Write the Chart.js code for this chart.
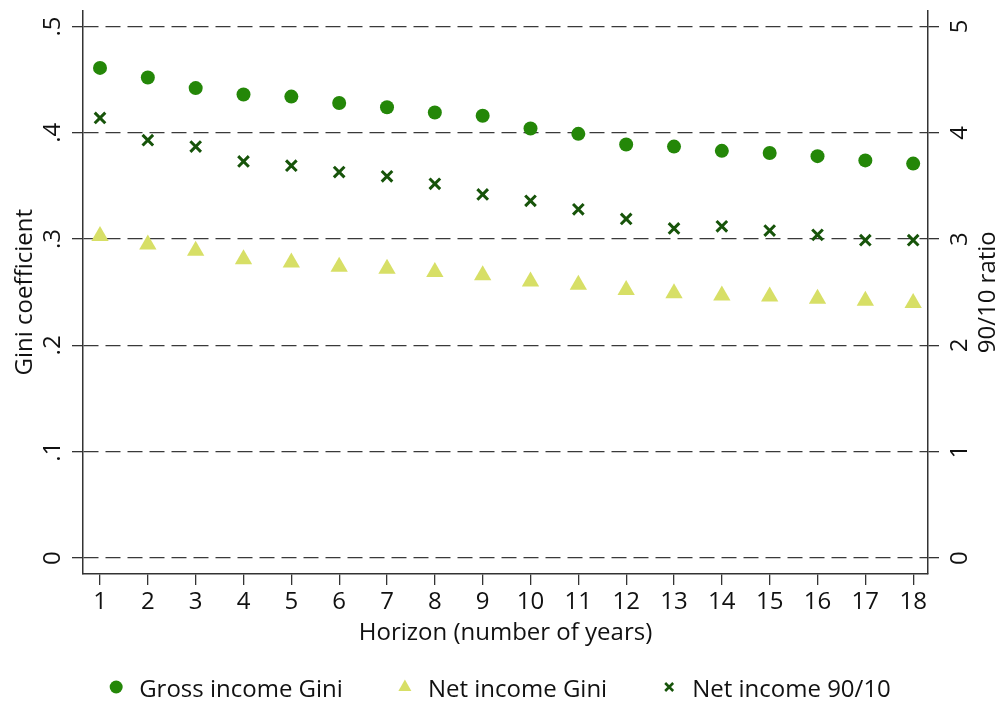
<!DOCTYPE html>
<html>
<head>
<meta charset="utf-8">
<script src="https://cdn.jsdelivr.net/npm/chart.js@4.4.1/dist/chart.umd.min.js"></script>
<style>
html,body{margin:0;padding:0;background:#fff}
#grafico{display:block}
</style>
</head>
<body>
<canvas id="grafico" width="1000" height="702"></canvas>
<script>
// datos
var horizonte = [1,2,3,4,5,6,7,8,9,10,11,12,13,14,15,16,17,18]
var giniBruto = [.461,.452,.442,.436,.434,.428,.424,.419,.416,.404,.399,.389,.387,.383,.381,.378,.374,.371]
var giniNeto = [.303,.295,.289,.281,.278,.274,.272,.269,.266,.260,.257,.252,.249,.247,.246,.244,.242,.240]
var ratio9010 = [4.14,3.93,3.87,3.73,3.69,3.63,3.59,3.52,3.42,3.36,3.28,3.19,3.10,3.12,3.08,3.04,2.99,2.99]
var ticksGini = [0,.1,.2,.3,.4,.5]
var etiquetasGini = ['0','.1','.2','.3','.4','.5']
var ticksRatio = [0,1,2,3,4,5]
var nombres = ['Gross income Gini','Net income Gini','Net income 90/10']

var verde = '#248708'
var amarillo = '#d7df66'
var oscuro = '#17540a'
var fuente = "'Open Sans', sans-serif"

var puntos = (serie) => horizonte.map((h, i) => ({x: h, y: serie[i]}))

//leyenda abajo y titulo del eje derecho
var extras = {
  id: 'extras',
  afterDraw(chart) {
    var ctx = chart.ctx
    ctx.save()
    ctx.font = '24px ' + fuente
    ctx.fillStyle = '#111'
    ctx.textBaseline = 'middle'
    // titulo derecho, de abajo hacia arriba
    ctx.save()
    ctx.translate(988, (chart.chartArea.top + chart.chartArea.bottom) / 2)
    ctx.rotate(-Math.PI / 2)
    ctx.textAlign = 'center'
    ctx.fillText('90/10 ratio', 0, 0)
    ctx.restore()

    var anchos = nombres.map(n => ctx.measureText(n).width)
    var total = anchos.reduce((a, b) => a + b + 30, 0) + 55 * (nombres.length - 1)
    var x = 500 - total / 2
    var y = 687
    ctx.textAlign = 'left'
    nombres.forEach((n, i) => {
      var cx = x + 7
      if (i == 0) {
        ctx.fillStyle = verde
        ctx.beginPath(); ctx.arc(cx, y, 6.5, 0, Math.PI * 2); ctx.fill()
      } else if (i == 1) {
        ctx.fillStyle = amarillo
        ctx.beginPath()
        ctx.moveTo(cx, y - 7.5)
        ctx.lineTo(cx + 6.5, y + 4)
        ctx.lineTo(cx - 6.5, y + 4)
        ctx.closePath(); ctx.fill()
      } else {
        ctx.strokeStyle = oscuro
        ctx.lineWidth = 2.5
        ctx.beginPath()
        ctx.moveTo(cx - 4, y - 4); ctx.lineTo(cx + 4, y + 4)
        ctx.moveTo(cx + 4, y - 4); ctx.lineTo(cx - 4, y + 4)
        ctx.stroke()
      }
      ctx.fillStyle = '#111'
      ctx.fillText(n, x + 30, y + 3)
      x += 30 + anchos[i] + 55
    })
    ctx.restore()
  }
}

var grid = {
  color: '#3a3a3a',
  lineWidth: 1.3,
  tickBorderDash: [],
  tickLength: 11,
  tickWidth: 1.3,
  tickColor: '#333'
}

var graf = document.getElementById('grafico').getContext('2d')
var chart = new Chart(graf, {
  type: 'scatter',
  data: {
    datasets: [
      {
        label: nombres[0],
        data: puntos(giniBruto),
        yAxisID: 'y',
        pointStyle: 'circle',
        pointRadius: 7,
        borderWidth: 0,
        backgroundColor: verde
      },
      {
        label: nombres[1],
        data: puntos(giniNeto),
        yAxisID: 'y',
        pointStyle: 'triangle',
        pointRadius: 10,
        borderWidth: 0,
        backgroundColor: amarillo
      },
      {
        label: nombres[2],
        data: puntos(ratio9010),
        yAxisID: 'y2',
        pointStyle: 'crossRot',
        pointRadius: 7.5,
        borderWidth: 3,
        borderColor: oscuro,
        backgroundColor: oscuro
      }
    ]
  },
  options: {
    responsive: false,
    animation: false,
    devicePixelRatio: 1,
    layout: {padding: {top: 8, left: 0, right: 0, bottom: 0}},
    plugins: {legend: {display: false}, tooltip: {enabled: false}},
    font: {family: fuente, size: 24},
    scales: {
      x: {
        type: 'linear',
        min: 0.6445,
        max: 18.31,
        afterBuildTicks: (s) => { s.ticks = horizonte.map(v => ({value: v})) },
        afterFit: (s) => { s.height = 128; s.paddingLeft = 0; s.paddingRight = 0 },
        grid: {drawOnChartArea: false, tickLength: 11, lineWidth: 1.3, color: '#333'},
        border: {display: true, color: '#333', width: 1.5},
        ticks: {autoSkip: false, maxRotation: 0, padding: 3, color: '#111', font: {family: fuente, size: 24}, callback: (v) => String(v)},
        title: {display: true, text: 'Horizon (number of years)', color: '#111', font: {family: fuente, size: 24}, padding: {top: 0, bottom: 54}}
      },
      y: {
        position: 'left',
        min: -0.015,
        max: 0.515,
        afterBuildTicks: (s) => { s.ticks = ticksGini.map(v => ({value: v})) },
        afterFit: (s) => { s.width = 83; s.paddingTop = 0; s.paddingBottom = 0 },
        grid: grid,
        border: {display: true, color: '#333', width: 1.5, dash: [15, 7]},
        ticks: {minRotation: 90, maxRotation: 90, crossAlign: 'center', padding: 9, color: '#111', font: {family: fuente, size: 24}, callback: (v, i) => etiquetasGini[i]},
        title: {display: true, text: 'Gini coefficient', color: '#111', font: {family: fuente, size: 24}, padding: {top: 11, bottom: 0}}
      },
      y2: {
        position: 'right',
        min: -0.15,
        max: 5.15,
        afterBuildTicks: (s) => { s.ticks = ticksRatio.map(v => ({value: v})) },
        afterFit: (s) => { s.width = 72; s.paddingTop = 0; s.paddingBottom = 0 },
        grid: {drawOnChartArea: false, tickLength: 11, lineWidth: 1.3, color: '#333', tickBorderDash: []},
        border: {display: true, color: '#333', width: 1.5},
        ticks: {minRotation: 90, maxRotation: 90, crossAlign: 'center', padding: 14, color: '#111', font: {family: fuente, size: 24}, callback: (v, i) => String(ticksRatio[i])}
      }
    }
  },
  plugins: [extras]
})
</script>
</body>
</html>
